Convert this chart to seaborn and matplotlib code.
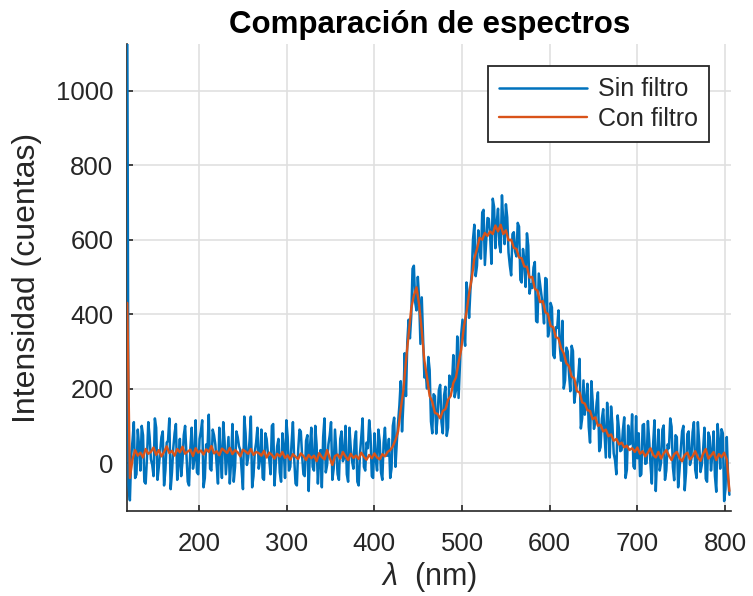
import numpy as np
import pandas as pd
import matplotlib
matplotlib.use("Agg")
import matplotlib.pyplot as plt
import seaborn as sns

# Wavelength sampling grids (nm)
wl_sin = np.arange(118, 806, 1.5)
wl_con = np.arange(118, 806, 3)

# Unfiltered spectrum (counts)
sin_filtro = [
    1200, -60, -100, 20, 60, 110, -40, -30, 90, 45, -20, 100, 75, -50, -55, 15, 110, 70, 10, -5,
    -35, 120, 95, -45, -10, 30, 70, 85, -60, -20, 55, 60, 120, -70, -25, 40, 80, 105, -45, 0,
    65, -35, 5, 75, 100, 25, -50, -60, 40, 95, -15, 10, 115, -25, -30, 65, 85, 115, -65, -40,
    50, 35, 130, -15, -20, 90, 75, 50, -5, -55, 95, 20, -40, 110, 60, -30, 20, 70, -55, 5,
    105, -50, -10, 85, 70, 45, 35, -20, -70, 125, 80, -5, 15, 60, 125, -65, -35, 30, 55, 95,
    -15, 10, 90, -40, -45, 80, 65, 25, 10, -30, 100, 105, -60, 0, 45, 65, -25, -50, 80, 40,
    -40, 115, 70, -20, -10, 55, 110, 10, -55, -60, 35, 90, 85, 20, -30, -35, 60, 75, -75, 45,
    95, -10, -20, 100, 50, -55, 15, 35, -65, 70, 120, -25, -5, 50, 75, 110, -45, -15, 90, 30,
    -30, -45, 65, 85, 5, 15, 100, -30, -50, 95, 40, 5, -15, 60, 85, -50, -60, 25, 70, 120,
    -10, -20, 55, 40, 115, 75, -35, -40, 80, 10, -20, 90, 60, -25, -45, 55, 95, 20, 20, 65,
    -40,
    -15, 100, 122, -10, 55, 110, 155, 220, 85, 160, 295, 180, 325, 385, 335, 395, 522, 530, 432, 410,
    500, 440, 320, 445, 340, 230, 242, 200, 285, 250, 112, 80, 185, 180, 79, 123, 196, 210, 110, 80,
    182, 205, 73, 95, 235, 205, 213, 290, 177, 195, 340, 175, 258, 345, 385, 345, 315, 485, 455, 390,
    465, 510, 602, 640, 502, 530, 625, 575, 549, 673, 680, 532, 595, 658, 656, 610, 535, 710, 688, 577,
    645, 683, 587, 566, 719, 642, 588, 695, 660, 565, 530, 504, 615, 620, 568, 555, 645, 635, 492, 485,
    575, 545, 473, 617, 584, 455, 480, 470, 525, 540, 381, 378, 509, 480, 449, 423, 375, 497, 494, 340,
    355, 430, 418, 290, 282, 365, 363, 410, 312, 275, 382, 200, 222, 310, 300, 240, 193, 315, 301, 162,
    191, 210, 232, 280, 93, 120, 222, 130, 167, 213, 97, 55, 220, 165, 92, 113, 162, 190, 32, 43,
    119, 145, 78, 15, 162, 98, 15, 152, 104, 26, 8, -30, 128, 90, 32, 35, 89, 123, -40, -18,
    101, 50, 53, 131, -9, -15, 126, 13,
    80, -35, -30, 102, 105, -2, 0, 113, 60, -5, -55, 52, 115, -75, 20, 90, -20, 2, 90, 101,
    -45, -20, 50, 40, 120, 98, -10, -46, 75, 70, -65, -21, 35, 85, 100, -73, -25, 78, 85, -5,
    10, 83, 110, -18, -40, 110, 55, -24, -5, 35, 95, -42, -50, 82, 70, -20, 25, 85, -35, -77,
    105, 59, -15, 91, 80, -102, -70, 70, -40, -85,
]

# Filtered spectrum (counts)
con_filtro = [
    430, -40, 10, 35, 20, 28, 15, 38, 25, 30,
    42, 22, 35, 18, 30, 45, 27, 33, 20, 38,
    29, 44, 25, 31, 36, 19, 40, 28, 34, 23,
    37, 30, 46, 26, 32, 21, 39, 33, 27, 41,
    24, 35, 29, 18, 36, 31, 25, 38, 22, 30,
    27, 20, 33, 15, 28, 22, 12, 25, 18, 30,
    14, 21, 9, 24, 17, 11, 26, 19, 8, 22,
    13, 20, 5, 27, 16, 10, 35, 14, -5, 19,
    23, 12, 30, 18, 8, 25, 14, 20, 11, 28,
    17, 9, 22, 13, 26, 15, 10, 24, 18, 30,
    35,
    45, 62, 85, 145, 195, 275, 345, 415, 450, 472,
    425, 355, 275, 230, 180, 165, 135, 132, 120, 140,
    145, 170, 180, 215, 230, 270, 305, 365, 405, 455,
    495, 550, 575, 605, 600, 618, 610, 622, 615, 638,
    622, 640, 615, 625, 598, 600, 578, 575, 552, 550,
    528, 527, 498, 500, 468, 463, 432, 435, 405, 400,
    368, 365, 338, 335, 308, 295, 268, 260, 232, 228,
    193, 190, 163, 160, 142, 140, 118, 123, 100, 103,
    85, 90, 72, 77, 60, 65, 50, 55, 42, 47,
    35, 40, 30, 42,
    25, 32, 18, 28, 40, 22, 15, 30, 12, 26,
    35, 20, 8, 24, 30, 14, 5, 22, 28, 10,
    18, 32, 15, 6, 25, 38, 12, 20, 30, 8,
    24, 16, 28, 10, -75,
]

x_ticks = [200, 300, 400, 500, 600, 700, 800]
y_ticks = [0, 200, 400, 600, 800, 1000]

sns.set_theme(style="white")
plt.rcParams['font.family'] = ['Liberation Sans', 'DejaVu Sans']
plt.rcParams['mathtext.fontset'] = 'custom'
plt.rcParams['mathtext.it'] = 'Liberation Sans:italic'

df_sin = pd.DataFrame({"wl": wl_sin, "val": sin_filtro})
df_con = pd.DataFrame({"wl": wl_con, "val": con_filtro})

fig = plt.figure(figsize=(7.53, 5.96), dpi=100)
ax = fig.add_axes([0.169, 0.143, 0.802, 0.783])

sns.lineplot(data=df_sin, x="wl", y="val", ax=ax, color="#0072BD", linewidth=1.8,
             label="Sin filtro", sort=False, estimator=None, zorder=3)
sns.lineplot(data=df_con, x="wl", y="val", ax=ax, color="#D95319", linewidth=1.7,
             label="Con filtro", sort=False, estimator=None, zorder=3.1)

ax.set_xlim(118, 807)
ax.set_ylim(-128, 1125)
ax.set_xticks(x_ticks)
ax.set_yticks(y_ticks)
ax.grid(True, color="#e0e0e0", linewidth=1.2)
ax.set_axisbelow(True)
for s in ["top", "right"]:
    ax.spines[s].set_visible(False)
for s in ["left", "bottom"]:
    ax.spines[s].set_color("#262626")
    ax.spines[s].set_linewidth(1.2)
ax.tick_params(direction="in", length=4, width=1.2, color="#262626",
               labelcolor="#262626", labelsize=18.5, left=True, bottom=True)
ax.tick_params(axis="x", pad=15)
ax.tick_params(axis="y", pad=10)

ax.set_title("Comparación de espectros", fontsize=22.5, fontweight="bold",
             color="black", pad=8)
ax.set_xlabel(r"$\lambda$  (nm)", fontsize=22, color="#262626", labelpad=3)
ax.set_ylabel("Intensidad (cuentas)", fontsize=23, color="#262626", labelpad=10)

leg = ax.legend(loc="upper right", bbox_to_anchor=(0.964, 0.953), borderaxespad=0,
                fontsize=18, frameon=True, fancybox=False, framealpha=1,
                edgecolor="#262626", handlelength=3.5, handletextpad=0.45,
                borderpad=0.45, labelspacing=0.22)
leg.get_frame().set_linewidth(1.3)
leg.set_zorder(10)
for t in leg.get_texts():
    t.set_color("#262626")

fig.savefig("out.png", dpi=100)
